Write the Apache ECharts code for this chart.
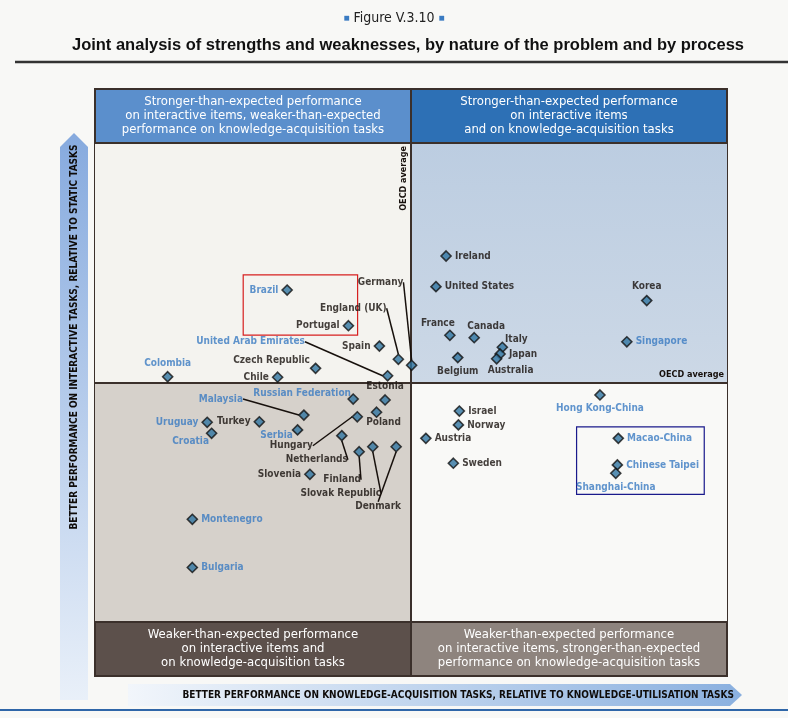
<!DOCTYPE html>
<html>
<head>
<meta charset="utf-8">
<title>Figure V.3.10</title>
<script src="https://cdn.jsdelivr.net/npm/echarts@6/dist/echarts.min.js"></script>
<style>
  html, body { margin: 0; padding: 0; background: #f8f8f6; }
  #chart { width: 788px; height: 718px; }
</style>
</head>
<body>
<div id="chart"></div>
<script>
// values: 0 = OECD average on both axes
var countries = ['Brazil', 'Portugal', 'England (UK)', 'Germany', 'Spain', 'United Arab Emirates',
    'Czech Republic', 'Chile', 'Colombia', 'Estonia', 'Russian Federation', 'Malaysia', 'Poland',
    'Hungary', 'Turkey', 'Uruguay', 'Serbia', 'Croatia', 'Netherlands', 'Finland', 'Slovak Republic',
    'Denmark', 'Slovenia', 'Montenegro', 'Bulgaria', 'Ireland', 'United States', 'Korea', 'France',
    'Canada', 'Italy', 'Japan', 'Australia', 'Belgium', 'Singapore', 'Hong Kong-China', 'Israel',
    'Norway', 'Austria', 'Sweden', 'Macao-China', 'Chinese Taipei', 'Shanghai-China'];
var knowledgeAcq = [-39.2, -19.8, -4.0, 0.2, -10.0, -7.4,
    -30.2, -42.2, -77.0, -8.2, -18.3, -33.9, -10.9,
    -17.0, -48.0, -64.5, -35.9, -63.1, -21.9, -16.4, -12.1,
    -4.7, -32.0, -69.2, -69.2, 11.1, 7.9, 74.6, 12.3,
    20.0, 28.9, 28.2, 27.1, 14.8, 68.3, 59.8, 15.3,
    15.0, 4.7, 13.4, 65.6, 65.3, 64.8];
var interactive = [38.6, 23.7, 9.7, 7.2, 15.2, 2.8,
    5.9, 2.2, 2.4, -7.3, -6.9, -13.6, -12.4,
    -14.3, -16.4, -16.6, -19.8, -21.2, -22.2, -28.9, -26.8,
    -26.8, -38.3, -57.1, -77.2, 52.8, 40.0, 34.2, 19.7,
    18.7, 14.7, 11.9, 9.9, 10.4, 17.0, -5.2, -11.9,
    -17.7, -23.3, -33.7, -23.3, -34.4, -37.9];
// partner countries / economies (blue labels)
var partners = ['Brazil', 'United Arab Emirates', 'Colombia', 'Russian Federation', 'Malaysia',
    'Uruguay', 'Serbia', 'Croatia', 'Montenegro', 'Bulgaria', 'Singapore', 'Hong Kong-China',
    'Macao-China', 'Chinese Taipei', 'Shanghai-China'];
var quadrantTitles = [
    'Stronger-than-expected performance\non interactive items, weaker-than-expected\nperformance on knowledge-acquisition tasks',
    'Stronger-than-expected performance\non interactive items\nand on knowledge-acquisition tasks',
    'Weaker-than-expected performance\non interactive items and\non knowledge-acquisition tasks',
    'Weaker-than-expected performance\non interactive items, stronger-than-expected\nperformance on knowledge-acquisition tasks'
];
var averageLabel = 'OECD average';
var yAxisTitle = 'BETTER PERFORMANCE ON INTERACTIVE TASKS, RELATIVE TO STATIC TASKS';
var xAxisTitle = 'BETTER PERFORMANCE ON KNOWLEDGE-ACQUISITION TASKS, RELATIVE TO KNOWLEDGE-UTILISATION TASKS';
var figureNo = 'Figure V.3.10';
var figureTitle = 'Joint analysis of strengths and weaknesses, by nature of the problem and by process';
// highlight boxes: [x1, y1, x2, y2]
var redBox = [-53.1, 44.9, -16.9, 19.8];
var blueBox = [52.4, -18.5, 92.8, -46.7];

// label placement (layout only)
var leader = {
    'England (UK)': [-45, -51], 'Germany': [-31, -83], 'United Arab Emirates': [-137, -34],
    'Malaysia': [-83, -16], 'Hungary': [-66, 29], 'Netherlands': [-25, 24], 'Finland': [-17, 28],
    'Slovak Republic': [-32, 47], 'Denmark': [-18, 60]
};
var shifted = {
    'Czech Republic': [-44, -8], 'Russian Federation': [-51, -6], 'Poland': [7, 10],
    'Serbia': [-21, 5], 'Croatia': [-21, 8], 'France': [-12, -12], 'Canada': [12, -11],
    'Italy': [14, -8], 'Australia': [14, 12]
};
var sidePos = {
    'Brazil': 'left', 'Portugal': 'left', 'Spain': 'left', 'Chile': 'left', 'Colombia': 'top',
    'Estonia': 'top', 'Turkey': 'left', 'Uruguay': 'left', 'Slovenia': 'left', 'Korea': 'top',
    'Belgium': 'bottom', 'Hong Kong-China': 'bottom', 'Shanghai-China': 'bottom'
};

var FONT = '"Liberation Sans Narrow", "DejaVu Sans Condensed", sans-serif';
var DARK = '#17100c';
var BLUE = '#3a7bc2';
var LINE = '#3b302b';

function buildData(withLeader) {
    var out = [];
    for (var i = 0; i < countries.length; i++) {
        var n = countries[i];
        if (!!leader[n] !== withLeader) continue;
        var pos = 'right';
        if (leader[n] || shifted[n]) pos = 'inside';
        else if (sidePos[n]) pos = sidePos[n];
        out.push({
            name: n,
            value: [knowledgeAcq[i], interactive[i]],
            label: { position: pos, color: partners.indexOf(n) >= 0 ? BLUE : DARK }
        });
    }
    return out;
}

function layoutLabel(p) {
    var off = leader[p.text] || shifted[p.text];
    if (off) return { dx: off[0], dy: off[1] };
    return {};
}

var pointStyle = {
    type: 'scatter',
    symbol: 'diamond',
    symbolSize: 10,
    z: 5,
    itemStyle: { color: '#2f74a0', borderColor: '#111', borderWidth: 1.6 },
    label: {
        show: true, formatter: '{b}', distance: 3,
        fontFamily: FONT, fontWeight: 'bold', fontSize: 10
    },
    labelLayout: layoutLabel
};

var chart = echarts.init(document.getElementById('chart'));

var option = {
    animation: false,
    backgroundColor: '#f8f8f6',
    grid: { left: 95, right: 61, top: 89, bottom: 42, show: true,
            borderColor: LINE, borderWidth: 2, backgroundColor: 'transparent' },
    xAxis: { type: 'value', min: -100, max: 100, show: false },
    yAxis: { type: 'value', min: -122.5, max: 122.5, show: false },
    graphic: [
        { type: 'text', left: 'center', top: 11, style: {
            text: '{sq|■} ' + figureNo + ' {sq|■}', fill: '#222', font: '14px ' + FONT,
            rich: { sq: { fill: BLUE, fontSize: 10 } } } },
        { type: 'text', x: 408, y: 37, style: {
            text: figureTitle, fill: '#111', align: 'center',
            font: 'bold 16.5px "Liberation Sans", sans-serif' } },
        { type: 'line', shape: { x1: 15, y1: 62, x2: 788, y2: 62 },
          style: { stroke: '#333', lineWidth: 2.5 } },
        { type: 'polygon', z: 0,
          shape: { points: [[60, 147], [74, 133], [88, 147], [88, 700], [60, 700]] },
          style: { fill: new echarts.graphic.LinearGradient(0, 0, 0, 1, [
              { offset: 0, color: '#86aade' }, { offset: 1, color: '#e9f0f9' }]) } },
        { type: 'text', x: 74, y: 337, rotation: Math.PI / 2, style: {
            text: yAxisTitle, fill: '#0f0c0a', align: 'center', verticalAlign: 'middle',
            font: 'bold 10px ' + FONT } },
        { type: 'polygon', z: 0,
          shape: { points: [[128, 684], [730, 684], [742, 695], [730, 706], [128, 706]] },
          style: { fill: new echarts.graphic.LinearGradient(0, 0, 1, 0, [
              { offset: 0, color: '#f2f6fb' }, { offset: 1, color: '#8ab0df' }]) } },
        { type: 'text', x: 734, y: 695, style: {
            text: xAxisTitle, fill: '#0f0c0a', align: 'right', verticalAlign: 'middle',
            font: 'bold 10px ' + FONT } },
        { type: 'line', shape: { x1: 0, y1: 710, x2: 788, y2: 710 },
          style: { stroke: '#2f66a8', lineWidth: 2 } }
    ],
    series: [
        {
            type: 'scatter', data: [], silent: true,
            markArea: {
                silent: true,
                label: { color: '#fff', fontFamily: FONT, fontSize: 13, lineHeight: 14, position: 'inside' },
                data: [
                    [{ coord: [-100, 0], itemStyle: { color: '#f4f3ef' }, label: { show: false } }, { coord: [0, 100] }],
                    [{ coord: [0, 0], label: { show: false }, itemStyle: {
                        color: new echarts.graphic.LinearGradient(0, 0, 0, 1, [
                            { offset: 0, color: '#bccde1' }, { offset: 1, color: '#ccd8e6' }]) } },
                     { coord: [100, 100] }],
                    [{ coord: [-100, -100], itemStyle: { color: '#d6d1cb' }, label: { show: false } }, { coord: [0, 0] }],
                    [{ coord: [0, -100], itemStyle: { color: '#f9f9f7' }, label: { show: false } }, { coord: [100, 0] }],
                    [{ name: quadrantTitles[0], coord: [-100, 100],
                       itemStyle: { color: '#5b8fcc', borderColor: LINE, borderWidth: 2 } }, { coord: [0, 122.5] }],
                    [{ name: quadrantTitles[1], coord: [0, 100],
                       itemStyle: { color: '#2d70b5', borderColor: LINE, borderWidth: 2 } }, { coord: [100, 122.5] }],
                    [{ name: quadrantTitles[2], coord: [-100, -122.5],
                       itemStyle: { color: '#5c504b', borderColor: LINE, borderWidth: 2 } }, { coord: [0, -100] }],
                    [{ name: quadrantTitles[3], coord: [0, -122.5],
                       itemStyle: { color: '#8e847e', borderColor: LINE, borderWidth: 2 } }, { coord: [100, -100] }]
                ]
            },
            markLine: {
                silent: true, symbol: ['none', 'none'],
                lineStyle: { color: LINE, width: 2, type: 'solid' },
                label: { formatter: averageLabel, position: 'insideEndTop', color: DARK,
                         fontFamily: FONT, fontWeight: 'bold', fontSize: 9, distance: 3 },
                data: [
                    [{ coord: [0, -100] }, { coord: [0, 100] }],
                    [{ coord: [-100, 0] }, { coord: [100, 0] }]
                ]
            }
        },
        {
            type: 'scatter', data: [], silent: true, z: 3,
            markArea: {
                silent: true,
                itemStyle: { color: 'rgba(0,0,0,0)', borderWidth: 1.2 },
                data: [
                    [{ coord: [redBox[0], redBox[1]], itemStyle: { borderColor: '#d62020' } },
                     { coord: [redBox[2], redBox[3]] }],
                    [{ coord: [blueBox[0], blueBox[1]], itemStyle: { borderColor: '#1a1a8c' } },
                     { coord: [blueBox[2], blueBox[3]] }]
                ]
            }
        },
        echarts.util.merge({ data: buildData(false) }, pointStyle, true),
        echarts.util.merge({
            data: buildData(true),
            labelLine: { show: true, lineStyle: { color: DARK, width: 1.5 } }
        }, pointStyle, true)
    ]
};

chart.setOption(option);
</script>
</body>
</html>
